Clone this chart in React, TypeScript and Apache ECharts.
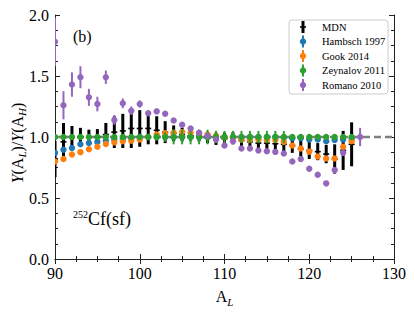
import React, { useEffect, useRef } from "react";
import * as echarts from "echarts";

const massNumbers = [90, 91, 92, 93, 94, 95, 96, 97, 98, 99, 100, 101, 102, 103, 104, 105, 106, 107, 108, 109, 110, 111, 112, 113, 114, 115, 116, 117, 118, 119, 120, 121, 122, 123, 124, 125, 126];

const mdnValues = [0.82, 0.96, 1.0, 1.0, 1.0, 1.0, 1.02, 1.04, 1.05, 1.07, 1.07, 1.07, 1.055, 1.04, 1.03, 1.02, 1.01, 1.0, 0.99, 0.985, 0.985, 0.99, 0.97, 0.96, 0.95, 0.95, 0.945, 0.94, 0.93, 0.9, 0.89, 0.88, 0.86, 0.82, 0.89, 0.94, null];
const mdnErrors = [0.15, 0.155, 0.09, 0.075, 0.06, 0.065, 0.095, 0.13, 0.14, 0.16, 0.15, 0.13, 0.115, 0.09, 0.065, 0.055, 0.04, 0.035, 0.04, 0.05, 0.05, 0.05, 0.05, 0.06, 0.07, 0.075, 0.075, 0.085, 0.06, 0.07, 0.07, 0.07, 0.075, 0.12, 0.16, 0.18, null];

const hambschValues = [0.87, 0.895, 0.91, 0.94, 0.95, 0.96, 0.97, 0.98, 0.985, 0.99, 1.0, 1.0, 1.0, 1.0, 1.0, 1.0, 1.0, 1.0, 1.0, 1.0, 1.0, 1.0, 1.0, 1.0, 1.0, 1.0, 1.0, 0.995, 0.99, 0.99, 0.98, 0.98, 0.965, 0.975, 0.98, 0.985, null];
const hambschErrors = [0.01, 0.01, 0.01, 0.01, 0.01, 0.01, 0.01, 0.01, 0.01, 0.01, 0.01, 0.01, 0.01, 0.01, 0.01, 0.01, 0.01, 0.01, 0.01, 0.01, 0.01, 0.01, 0.01, 0.01, 0.01, 0.01, 0.01, 0.01, 0.01, 0.01, 0.01, 0.01, 0.01, 0.01, 0.01, 0.01, null];

const gookValues = [0.8, 0.82, 0.856, 0.876, 0.9, 0.92, 0.943, 0.956, 0.965, 0.97, 0.98, 1.0, 1.02, 1.03, 1.035, 1.04, 1.035, 1.03, 1.02, 1.01, 1.0, 0.995, 0.98, 0.975, 0.98, 0.975, 0.975, 0.96, 0.93, 0.905, 0.88, 0.84, 0.824, 0.824, 0.92, 0.965, null];
const gookErrors = [0.01, 0.01, 0.01, 0.01, 0.01, 0.01, 0.01, 0.01, 0.01, 0.01, 0.01, 0.01, 0.01, 0.01, 0.01, 0.01, 0.01, 0.01, 0.01, 0.01, 0.01, 0.01, 0.01, 0.01, 0.01, 0.01, 0.01, 0.01, 0.01, 0.01, 0.01, 0.01, 0.01, 0.01, 0.01, 0.01, null];

const zeynalovValues = [1.0, 1.0, 1.0, 1.0, 1.0, 1.0, 1.0, 1.0, 1.0, 1.0, 1.0, 1.0, 1.0, 1.0, 1.0, 1.0, 1.0, 1.0, 1.0, 1.0, 1.0, 1.0, 1.0, 1.0, 1.0, 1.0, 1.0, 1.0, 1.0, 1.0, 1.0, 1.0, 1.0, 1.0, 1.0, 1.0, null];
const zeynalovErrors = [0.02, 0.02, 0.02, 0.02, 0.02, 0.02, 0.02, 0.02, 0.02, 0.02, 0.02, 0.02, 0.03, 0.04, 0.06, 0.06, 0.06, 0.06, 0.06, 0.05, 0.05, 0.05, 0.05, 0.05, 0.05, 0.05, 0.05, 0.05, 0.02, 0.02, 0.02, 0.02, 0.02, 0.02, 0.02, 0.02, null];

const romanoValues = [1.78, 1.26, 1.43, 1.49, 1.325, 1.27, 1.49, 1.14, 1.276, 1.215, 1.27, 1.195, 1.21, 1.19, 1.135, 1.1, 1.07, 1.035, 1.01, 0.98, 0.93, 0.965, 0.905, 0.905, 0.89, 0.884, 0.878, 0.864, 0.8, 0.82, 0.74, 0.69, 0.62, 0.73, 0.87, null, 1.0];
const romanoErrors = [0.2, 0.115, 0.1, 0.09, 0.07, 0.06, 0.055, 0.04, 0.04, 0.035, 0.03, 0.02, 0.02, 0.02, 0.02, 0.02, 0.02, 0.02, 0.02, 0.02, 0.02, 0.02, 0.02, 0.02, 0.02, 0.02, 0.02, 0.02, 0.02, 0.02, 0.02, 0.02, 0.02, 0.02, 0.02, null, 0.075];

const legendNames = ["MDN", "Hambsch 1997", "Gook 2014", "Zeynalov 2011", "Romano 2010"];
const seriesColors = ["#000000", "#1f77b4", "#ff7f0e", "#2ca02c", "#9467bd"];

const xTicks = { min: 90, max: 130, interval: 10 };
const yTicks = { min: 0, max: 2, interval: 0.5 };

const FONT = "Liberation Serif";

function build(values: (number | null)[], errors: (number | null)[]) {
  const out: number[][] = [];
  massNumbers.forEach((a, i) => {
    const v = values[i];
    const e = errors[i];
    if (v != null && e != null) out.push([a, v, e]);
  });
  return out;
}

function errSeries(name: string, data: number[][], color: string, isMdn: boolean) {
  return {
    type: "custom",
    name,
    clip: true,
    data,
    renderItem: (_p: any, api: any) => {
      const x = api.value(0);
      const v = api.value(1);
      const e = api.value(2);
      const top = api.coord([x, v + e]);
      const bot = api.coord([x, v - e]);
      const c = api.coord([x, v]);
      const children: any[] = [
        {
          type: "line",
          shape: { x1: top[0], y1: top[1], x2: bot[0], y2: bot[1] },
          style: { stroke: color, lineWidth: isMdn ? 3 : 2 },
        },
      ];
      if (isMdn) {
        children.push({
          type: "line",
          shape: { x1: c[0] - 3, y1: c[1], x2: c[0] + 3, y2: c[1] },
          style: { stroke: color, lineWidth: 1.6 },
        });
      } else {
        children.push({
          type: "circle",
          shape: { cx: c[0], cy: c[1], r: 3.2 },
          style: { fill: color },
        });
      }
      return { type: "group", children };
    },
  };
}

export default function App() {
  const ref = useRef<HTMLDivElement>(null);
  useEffect(() => {
    document.body.style.margin = "0";
    if (!ref.current) return;
    const chart = echarts.init(ref.current, null, { renderer: "svg" });

    const axisCommon = {
      axisLine: { show: true, lineStyle: { color: "#222", width: 1 } },
      axisTick: { show: true, inside: true, length: 5, lineStyle: { color: "#222" } },
      minorTick: { show: true, splitNumber: 4, length: 3, lineStyle: { color: "#222" } },
      splitLine: { show: false },
      minorSplitLine: { show: false },
    };

    const legendX = 289;
    const legendY = 20;
    const legendItems: any[] = [
      {
        type: "rect",
        shape: { x: legendX, y: legendY, width: 99, height: 74, r: 3 },
        style: { fill: "rgba(255,255,255,0.85)", stroke: "#cccccc", lineWidth: 1 },
        z: 100,
      },
    ];
    legendNames.forEach((n, i) => {
      const cy = legendY + 7 + i * 14.5;
      const col = seriesColors[i];
      legendItems.push({
        type: "line",
        shape: { x1: 303, y1: cy - 6, x2: 303, y2: cy + 6 },
        style: { stroke: col, lineWidth: i === 0 ? 3 : 2 },
        z: 101,
      });
      if (i === 0) {
        legendItems.push({
          type: "line",
          shape: { x1: 300, y1: cy, x2: 306, y2: cy },
          style: { stroke: col, lineWidth: 1.6 },
          z: 101,
        });
      } else {
        legendItems.push({
          type: "circle",
          shape: { cx: 303, cy, r: 3.2 },
          style: { fill: col },
          z: 101,
        });
      }
      legendItems.push({
        type: "text",
        x: 322,
        y: cy,
        style: {
          text: n,
          fontSize: 10.5,
          fontFamily: FONT,
          fontWeight: "normal",
          fill: "#000",
          stroke: "none",
          lineWidth: 0,
          verticalAlign: "middle",
        },
        z: 101,
      });
    });

    chart.setOption({
      animation: false,
      grid: { left: 55, right: 21, top: 15, bottom: 50 },
      xAxis: [
        {
          type: "value",
          min: xTicks.min,
          max: xTicks.max,
          interval: xTicks.interval,
          ...axisCommon,
          axisLabel: { color: "#000", fontSize: 16, fontFamily: FONT, margin: 6 },
          name: "A{sub|L}",
          nameLocation: "middle",
          nameGap: 27,
          nameTextStyle: {
            color: "#000",
            fontSize: 16,
            fontFamily: FONT,
            rich: {
              sub: { fontSize: 11, fontStyle: "italic", fontFamily: FONT, padding: [10, 0, 0, 0] },
            },
          },
        },
        {
          type: "value",
          position: "top",
          min: xTicks.min,
          max: xTicks.max,
          interval: xTicks.interval,
          ...axisCommon,
          axisLabel: { show: false },
        },
      ],
      yAxis: [
        {
          type: "value",
          min: yTicks.min,
          max: yTicks.max,
          interval: yTicks.interval,
          ...axisCommon,
          axisLabel: {
            color: "#000",
            fontSize: 16,
            fontFamily: FONT,
            margin: 6,
            formatter: (v: number) => v.toFixed(1),
          },
        },
        {
          type: "value",
          position: "right",
          min: yTicks.min,
          max: yTicks.max,
          interval: yTicks.interval,
          ...axisCommon,
          axisLabel: { show: false },
        },
      ],
      graphic: [
        {
          type: "text",
          x: 73,
          y: 36,
          style: {
            text: "(b)",
            fontSize: 16,
            fontFamily: FONT,
            fontWeight: "normal",
            fill: "#000",
            stroke: "none",
            verticalAlign: "middle",
          },
        },
        {
          type: "text",
          x: 73,
          y: 219,
          style: {
            text: "{sup|252}{n|Cf(sf)}",
            fill: "#000",
            stroke: "none",
            verticalAlign: "middle",
            rich: {
              sup: { fontSize: 10, fontFamily: FONT, padding: [0, 0, 9, 0] },
              n: { fontSize: 18, fontFamily: FONT },
            },
          },
        },
        {
          type: "text",
          x: 17,
          y: 143,
          rotation: Math.PI / 2,
          style: {
            text: "{i|Y}{n|(A}{sub|L}{n|)/}{i|Y}{n|(A}{sub|H}{n|)}",
            fill: "#000",
            stroke: "none",
            align: "center",
            verticalAlign: "middle",
            rich: {
              i: { fontSize: 16, fontStyle: "italic", fontFamily: FONT },
              n: { fontSize: 16, fontFamily: FONT },
              sub: { fontSize: 11, fontStyle: "italic", fontFamily: FONT, padding: [10, 0, 0, 0] },
            },
          },
        },
        ...legendItems,
      ],
      series: [
        {
          type: "line",
          data: [
            [90, 1],
            [130, 1],
          ],
          symbol: "none",
          lineStyle: { color: "#7f7f7f", width: 2.5, type: [7, 4] },
          z: 1,
        },
        { ...errSeries(legendNames[0], build(mdnValues, mdnErrors), seriesColors[0], true), z: 2 },
        { ...errSeries(legendNames[1], build(hambschValues, hambschErrors), seriesColors[1], false), z: 3 },
        { ...errSeries(legendNames[2], build(gookValues, gookErrors), seriesColors[2], false), z: 4 },
        { ...errSeries(legendNames[3], build(zeynalovValues, zeynalovErrors), seriesColors[3], false), z: 5 },
        { ...errSeries(legendNames[4], build(romanoValues, romanoErrors), seriesColors[4], false), z: 6 },
      ],
    });
    return () => chart.dispose();
  }, []);
  return <div ref={ref} style={{ width: 415, height: 312 }} />;
}
